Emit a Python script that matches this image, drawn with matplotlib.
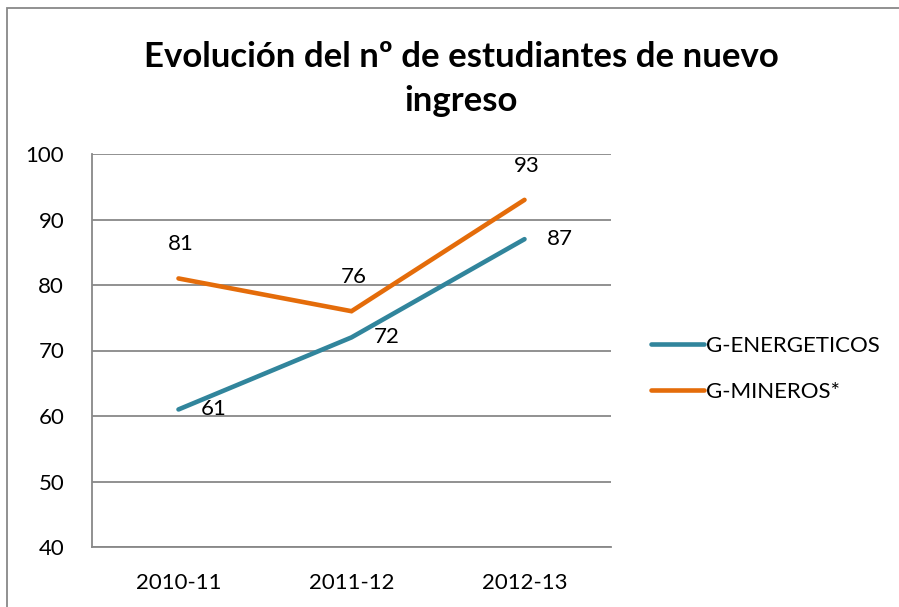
import numpy as np
import matplotlib.pyplot as plt
import matplotlib.patches as mpatches

# data
categorias = ['2010-11', '2011-12', '2012-13']
energeticos = [61, 72, 87]
mineros = [81, 76, 93]
yticks = [40, 50, 60, 70, 80, 90, 100]

plt.rcParams['font.family'] = ['Lato', 'DejaVu Sans']

fig = plt.figure(figsize=(8.99, 6.07), dpi=100)
ax = fig.add_axes([92/899, 60/607, (611-92)/899, (547-154)/607])

x = np.arange(len(categorias))
c_en = '#31859C'
c_mi = '#E46C0A'
ax.plot(x, energeticos, color=c_en, lw=3.3, solid_capstyle='round',
        solid_joinstyle='miter', label='G-ENERGETICOS', zorder=3)
ax.plot(x, mineros, color=c_mi, lw=3.3, solid_capstyle='round',
        solid_joinstyle='miter', label='G-MINEROS*', zorder=3)

for xi, v in zip(x, energeticos):
    ax.annotate(str(v), (xi, v), xytext=(22, 0), textcoords='offset pixels',
                ha='left', va='center', fontsize=16)
for xi, v in zip(x, mineros):
    ax.annotate(str(v), (xi, v), xytext=(2, 34), textcoords='offset pixels',
                ha='center', va='center', fontsize=16)

ax.set_xlim(-0.5, 2.5)
ax.set_ylim(40, 100)
ax.set_yticks(yticks)
ax.set_xticks(x)
ax.set_xticklabels(categorias)
ax.tick_params(length=0, labelsize=16, pad=19)
ax.tick_params(axis='y', pad=20)
ax.grid(axis='y', color='#888888', lw=1.3)
ax.set_axisbelow(True)
for s in ['top', 'right']:
    ax.spines[s].set_visible(False)
for s in ['left', 'bottom']:
    ax.spines[s].set_color('#888888')
    ax.spines[s].set_linewidth(1.3)

leg = ax.legend(loc='center left', bbox_to_anchor=(1.038, 0.453), frameon=False,
                fontsize=16, handlelength=2.4, handletextpad=0.1,
                labelspacing=1.15)

fig.text(0.513, 1 - 57/607, 'Evolución del nº de estudiantes de nuevo',
         ha='center', va='center', fontsize=25, fontweight='bold')
fig.text(0.513, 1 - 101/607, 'ingreso',
         ha='center', va='center', fontsize=25, fontweight='bold')

# borde exterior
fig.patches.append(mpatches.Rectangle((7/899, -0.1), 1.2, 1 - 8/607 + 0.1,
                                      transform=fig.transFigure, fill=False,
                                      edgecolor='#888888', lw=1.3))

fig.savefig('out.png', dpi=100)
plt.close()
